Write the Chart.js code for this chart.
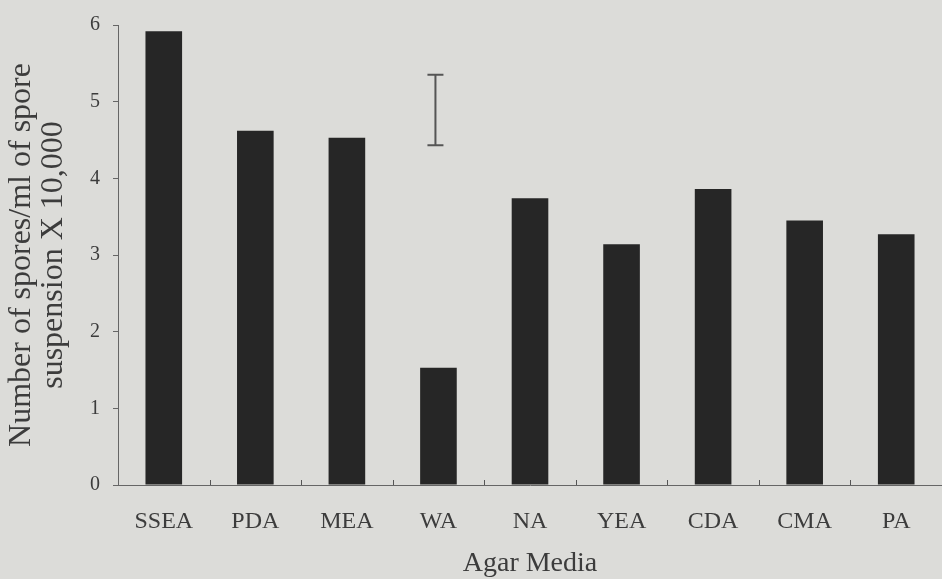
<!DOCTYPE html>
<html>

<head>
    <title>Spores per agar medium</title>
    <style>
        body { margin: 0; background: #dcdcd9; }
        canvas { display: block; }
    </style>
</head>

<body>
    <canvas id="myChart" width="942" height="579"></canvas>
    <script src="https://cdn.jsdelivr.net/npm/chart.js@4.4.1/dist/chart.umd.min.js"></script>

    <script type="text/javascript">
        // data
        const media = ['SSEA', 'PDA', 'MEA', 'WA', 'NA', 'YEA', 'CDA', 'CMA', 'PA'];
        const spores = [5.92, 4.62, 4.53, 1.53, 3.74, 3.14, 3.86, 3.45, 3.27];
        const yTicks = [0, 1, 2, 3, 4, 5, 6];
        // the floating LSD bar, drawn above WA
        const lsdCategory = 'WA';
        const lsdRange = [4.43, 5.35];

        const ink = '#3c3c3c';
        const serif = 'Liberation Serif';

        // draws the LSD "I" bar and the small upward ticks on the x axis
        const extras = {
            id: 'extras',
            afterDatasetsDraw(chart) {
                const ctx = chart.ctx;
                const x = chart.scales.x;
                const y = chart.scales.y;
                ctx.save();
                ctx.strokeStyle = '#555';
                // x axis tick marks between categories, pointing up
                for (let i = 1; i < media.length; i++) {
                    let px = Math.round((x.getPixelForValue(i - 1) + x.getPixelForValue(i)) / 2) + 0.5;
                    ctx.lineWidth = 1;
                    ctx.beginPath();
                    ctx.moveTo(px, y.bottom);
                    ctx.lineTo(px, y.bottom - 5);
                    ctx.stroke();
                }
                // LSD bar
                let cx = x.getPixelForValue(media.indexOf(lsdCategory)) - 3;
                let top = y.getPixelForValue(lsdRange[1]);
                let bot = y.getPixelForValue(lsdRange[0]);
                ctx.lineWidth = 2;
                ctx.beginPath();
                ctx.moveTo(cx, top);
                ctx.lineTo(cx, bot);
                ctx.moveTo(cx - 8, top);
                ctx.lineTo(cx + 8, top);
                ctx.moveTo(cx - 8, bot);
                ctx.lineTo(cx + 8, bot);
                ctx.stroke();
                ctx.restore();
            }
        };

        var ctx = document.getElementById('myChart').getContext('2d');
        var myChart = new Chart(ctx, {
            type: 'bar',
            data: {
                labels: media,
                datasets: [{
                    label: 'Spores',
                    data: spores,
                    backgroundColor: '#262626',
                    borderWidth: 0,
                    categoryPercentage: 1,
                    barPercentage: 0.4
                }]
            },
            options: {
                responsive: false,
                animation: false,
                layout: { padding: { top: 12, right: 0, left: 0, bottom: 0 } },
                plugins: {
                    legend: { display: false },
                    tooltip: { enabled: false }
                },
                scales: {
                    x: {
                        grid: { display: false },
                        border: { display: true, color: '#666', width: 1 },
                        afterFit(axis) { axis.height = 94; },
                        ticks: {
                            color: ink,
                            padding: 14,
                            font: { family: serif, size: 24 }
                        },
                        title: {
                            display: true,
                            text: 'Agar Media',
                            color: ink,
                            padding: { top: 0, bottom: 0 },
                            font: { family: serif, size: 28, lineHeight: 1.1 }
                        }
                    },
                    y: {
                        min: 0,
                        max: 6,
                        afterBuildTicks(axis) {
                            axis.ticks = yTicks.map(v => ({ value: v }));
                        },
                        afterFit(axis) { axis.width = 118; },
                        grid: {
                            drawOnChartArea: false,
                            drawTicks: true,
                            tickLength: 5,
                            color: '#666'
                        },
                        border: { display: true, color: '#666', width: 1 },
                        ticks: {
                            color: ink,
                            padding: 13,
                            font: { family: serif, size: 20 }
                        },
                        title: {
                            display: true,
                            text: ['Number of spores/ml of spore', 'suspension X 10,000'],
                            color: ink,
                            padding: { top: 6, bottom: 10 },
                            font: { family: serif, size: 32, lineHeight: 1.0 }
                        }
                    }
                }
            },
            plugins: [extras]
        });
    </script>
</body>

</html>
